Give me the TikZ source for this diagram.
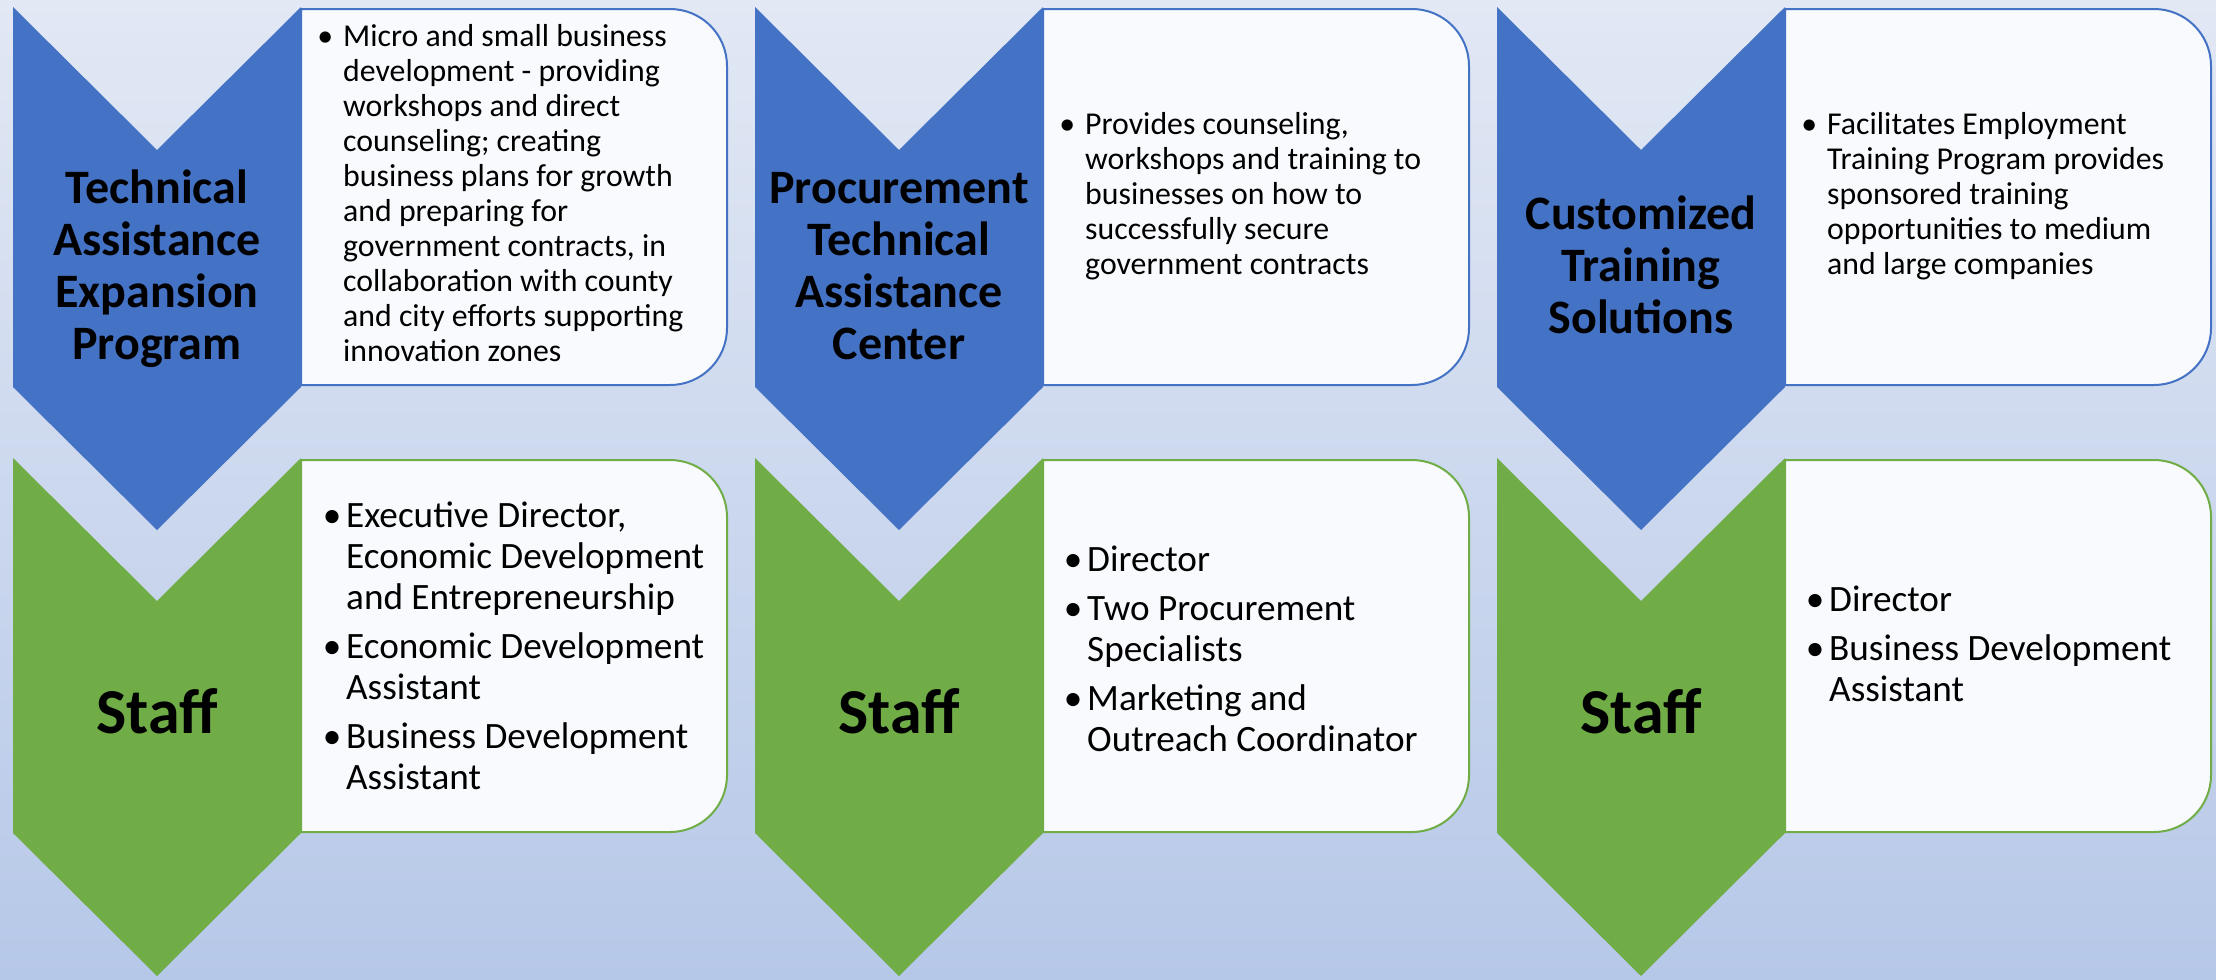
\documentclass[tikz,border=0pt]{standalone}
\usepackage{fontspec}
\setmainfont{Carlito}
\definecolor{cblue}{HTML}{4472C4}
\definecolor{cgreen}{HTML}{70AD47}
\definecolor{boxfill}{HTML}{F8FAFD}
\definecolor{bgtop}{HTML}{E2E8F4}
\definecolor{bgbot}{HTML}{B6C8E8}
\newcommand\rbox[4]{%
  \filldraw[fill=boxfill, draw=#4, line width=2bp]
  ({#1},{#2}) -- ({#1+369},{#2}) .. controls ({#1+400.5},{#2}) and ({#1+426},{#2+25.5}) .. ({#1+426},{#2+57})
  -- ({#1+426},{#3-57}) .. controls ({#1+426},{#3-25.5}) and ({#1+400.5},{#3}) .. ({#1+369},{#3})
  -- ({#1},{#3}) -- cycle;}
\newcommand\chevshape[4]{%
  \fill[#4] ({#1},{#2}) -- ({#1+144},{#2+143}) -- ({#1+288},{#2}) -- ({#1+288},{#3}) -- ({#1+144},{#3+143}) -- ({#1},{#3}) -- cycle;}
\newcommand\bul{\makebox[18bp][l]{\makebox[0pt]{\textbullet}}}
\newcommand\sbul{\makebox[14bp][l]{\makebox[0pt]{\textbullet}}}
\newcommand\htab[1]{\begin{tabular}{@{}c@{}}#1\end{tabular}}
\begin{document}
\begin{tikzpicture}[x=1bp,y=-1bp,
  head/.style={inner sep=0pt, font=\fontsize{48bp}{52.3bp}\selectfont\bfseries},
  stafflabel/.style={inner sep=0pt, anchor=base, font=\fontsize{64bp}{74bp}\selectfont\bfseries},
  desc/.style={anchor=west, inner sep=0pt, font=\fontsize{31.8bp}{35bp}\selectfont},
  staffdesc/.style={anchor=west, inner sep=0pt, font=\fontsize{37.2bp}{41bp}\selectfont}]
\useasboundingbox (0,0) rectangle (2216,979);
\shade[top color=bgtop, bottom color=bgbot] (0,0) rectangle (2216,979);
% boxes
\rbox{301}{9}{385}{cblue}
\rbox{1043}{9}{385}{cblue}
\rbox{1785}{9}{385}{cblue}
\rbox{301}{460}{832}{cgreen}
\rbox{1043}{460}{832}{cgreen}
\rbox{1785}{460}{832}{cgreen}
% chevrons
\chevshape{13}{7}{387}{cblue}
\chevshape{755}{7}{387}{cblue}
\chevshape{1497}{7}{387}{cblue}
\chevshape{13}{458}{833}{cgreen}
\chevshape{755}{458}{833}{cgreen}
\chevshape{1497}{458}{833}{cgreen}
% headings
\node[head] (h1) at (157,271) {\htab{Technical\\Assistance\\Expansion\\Program}};
\node[head] (h2) at (899,271) {\htab{Procurement\\Technical\\Assistance\\Center}};
\node[head] (h3) at (1641,271) {\htab{Customized\\Training\\Solutions}};
\node[stafflabel] (s1) at (157,733) {Staff};
\node[stafflabel] (s2) at (899,733) {Staff};
\node[stafflabel] (s3) at (1641,733) {Staff};
% descriptions
\node[desc] (d1) at (325,197) {\begin{tabular}{@{}l@{}l@{}}\bul & Micro and small business\\ & development - providing\\ & workshops and direct\\ & counseling; creating\\ & business plans for growth\\ & and preparing for\\ & government contracts, in\\ & collaboration with county\\ & and city efforts supporting\\ & innovation zones\end{tabular}};
\node[desc] (d2) at (1067,197) {\begin{tabular}{@{}l@{}l@{}}\bul & Provides counseling,\\ & workshops and training to\\ & businesses on how to\\ & successfully secure\\ & government contracts\end{tabular}};
\node[desc] (d3) at (1809,197) {\begin{tabular}{@{}l@{}l@{}}\bul & Facilitates Employment\\ & Training Program provides\\ & sponsored training\\ & opportunities to medium\\ & and large companies\end{tabular}};
% staff lists
\node[staffdesc] (t1) at (332,650) {\begin{tabular}{@{}l@{}l@{}}\sbul & Executive Director,\\ & Economic Development\\ & and Entrepreneurship\\[8bp] \sbul & Economic Development\\ & Assistant\\[8bp] \sbul & Business Development\\ & Assistant\end{tabular}};
\node[staffdesc] (t2) at (1073,653) {\begin{tabular}{@{}l@{}l@{}}\sbul & Director\\[8bp] \sbul & Two Procurement\\ & Specialists\\[8bp] \sbul & Marketing and\\ & Outreach Coordinator\end{tabular}};
\node[staffdesc] (t3) at (1815,648) {\begin{tabular}{@{}l@{}l@{}}\sbul & Director\\[8bp] \sbul & Business Development\\ & Assistant\end{tabular}};
\end{tikzpicture}
\end{document}
